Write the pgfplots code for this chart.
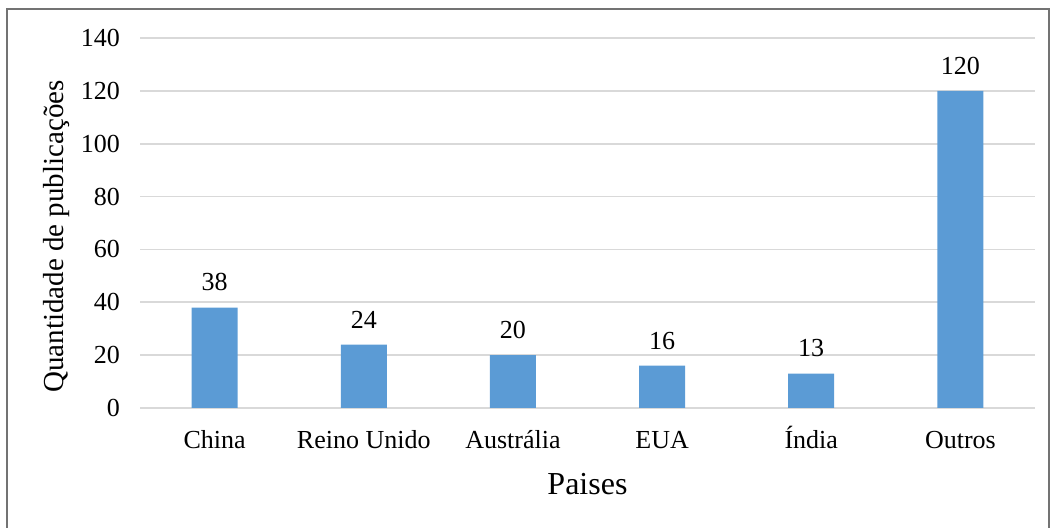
\documentclass[border=0pt]{standalone}
\usepackage{fontspec}
\setmainfont{Liberation Serif}
\usepackage{pgfplots}
\pgfplotsset{compat=1.18}
\definecolor{barblue}{HTML}{5B9BD5}
\definecolor{gridgray}{HTML}{D9D9D9}
\begin{document}
\begin{tikzpicture}
\useasboundingbox (0,0) rectangle (527pt,264pt);
\begin{axis}[
    at={(70pt,60pt)}, anchor=south west,
    scale only axis,
    width=447.5pt, height=185pt,
    xmin=-0.5, xmax=5.5,
    ymin=0, ymax=140,
    ytick={0,20,...,140},
    xtick=data,
    xticklabels={China, Reino Unido, Austrália, EUA, Índia, Outros},
    axis line style={draw=none},
    tick style={draw=none},
    ymajorgrids,
    grid style={gridgray, line width=0.8pt},
    /pgf/number format/assume math mode=true,
    ticklabel style={font=\fontsize{13}{15}\selectfont},
    yticklabel style={xshift=-6.5pt},
    xticklabel style={anchor=base, yshift=-20.5pt},
    xlabel={Paises},
    xlabel style={at={(axis description cs:0.5,0)}, anchor=center, yshift=-38pt, font=\fontsize{16}{18}\selectfont},
    ylabel={Quantidade de publicações},
    ylabel style={at={(axis description cs:-0.093,0.4635)}, anchor=center, rotate=0, font=\fontsize{14.5}{16}\selectfont},
    nodes near coords,
    every node near coord/.append style={font=\fontsize{13}{15}\selectfont, anchor=south, inner sep=0pt, yshift=8pt},
]
\addplot[ybar, bar width=23pt, fill=barblue, draw=none] coordinates {
    (0,38) (1,24) (2,20) (3,16) (4,13) (5,120)
};
\end{axis}
\draw[black!55, line width=0.6pt] (3.5pt,-5pt) -- (3.5pt,259.5pt) -- (524.5pt,259.5pt) -- (524.5pt,-5pt);
\end{tikzpicture}
\end{document}
